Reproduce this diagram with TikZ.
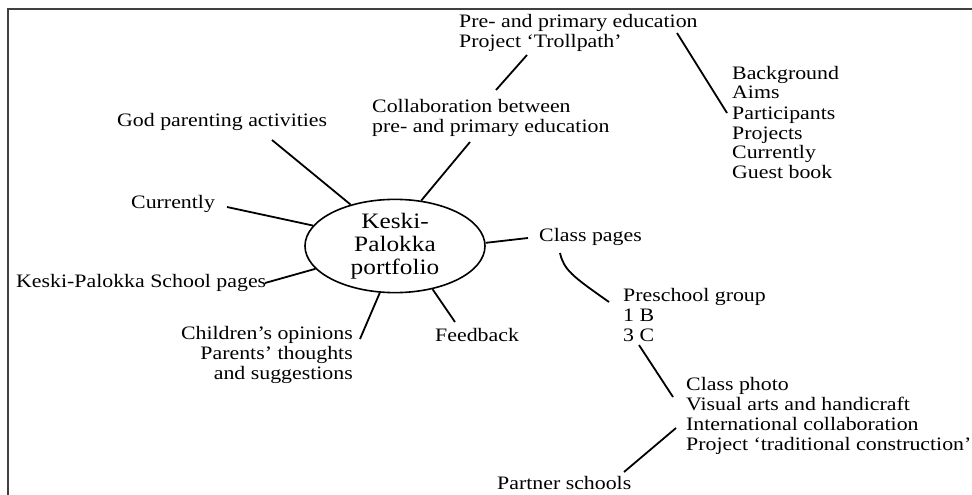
\documentclass[tikz,border=0pt]{standalone}
\usepackage{fontspec}
\setmainfont[FakeStretch=1.15]{Liberation Serif}
\usetikzlibrary{shapes.geometric}
\tikzset{
  txt/.style={inner sep=0pt, font=\fontsize{19}{20}\selectfont, align=left},
  hub/.style={ellipse, draw, line width=1.6pt, minimum width=180pt, minimum height=90pt, inner sep=0pt, align=center, font=\fontsize{22}{23}\selectfont},
  conn/.style={line width=1.8pt},
  frame/.style={line width=1.6pt, draw=black!75}
}
\begin{document}
\begin{tikzpicture}[x=1pt,y=-1pt]
\useasboundingbox (0,0) rectangle (972,495);
\draw[frame] (8,495) -- (8,9) -- (972,9);

\node[hub] (kp) at (395,246) {Keski-\\Palokka\\portfolio};

\node[txt, anchor=west] (troll) at (459,33) {Pre- and primary education\\Project ‘Trollpath’};
\node[txt, anchor=west] (bg) at (732,122.5) {Background\\Aims\\Participants\\Projects\\Currently\\Guest book};
\node[txt, anchor=west] (collab) at (372,118) {Collaboration between\\pre- and primary education};
\node[txt, anchor=west] (god) at (117,122) {God parenting activities};
\node[txt, anchor=west] (cur) at (131,204) {Currently};
\node[txt, anchor=west] (school) at (16,283) {Keski-Palokka School pages};
\node[txt, anchor=east, align=right] (child) at (353,355) {Children’s opinions\\Parents’ thoughts\\and suggestions};
\node[txt, anchor=west] (feed) at (435,335) {Feedback};
\node[txt, anchor=west] (classp) at (539,237) {Class pages};
\node[txt, anchor=west] (pre) at (623,314.5) {Preschool group\\1 B\\3 C};
\node[txt, anchor=west] (photo) at (686,415.5) {Class photo\\Visual arts and handicraft\\International collaboration\\Project ‘traditional construction’};
\node[txt, anchor=west] (partner) at (497,483) {Partner schools};

\coordinate (trollA) at (527,55);
\coordinate (collabA) at (496,90);
\coordinate (eduA) at (677,33);
\coordinate (bgA) at (727,113);
\coordinate (collabB) at (470,142);
\coordinate (godA) at (272,140);
\coordinate (curA) at (227,207);
\coordinate (schoolA) at (265,283);
\coordinate (childA) at (360,339);
\coordinate (feedA) at (455,322);
\coordinate (classA) at (528,238);
\coordinate (classB) at (560,253);
\coordinate (preA) at (609,302);
\coordinate (preB) at (639,345);
\coordinate (photoA) at (673,397);
\coordinate (photoB) at (676,428);
\coordinate (partnerA) at (624,472);

\draw[conn] (trollA) -- (collabA);
\draw[conn] (eduA) -- (bgA);
\draw[conn] (collabB) -- (kp.60);
\draw[conn] (godA) -- (kp.137);
\draw[conn] (curA) -- (kp.166);
\draw[conn] (schoolA) -- (kp.196);
\draw[conn] (childA) -- (kp.252);
\draw[conn] (feedA) -- (kp.311);
\draw[conn] (kp.2) -- (classA);
\draw[conn] (classB) .. controls (564,270) and (572,276) .. (preA);
\draw[conn] (preB) -- (photoA);
\draw[conn] (photoB) -- (partnerA);
\end{tikzpicture}
\end{document}
